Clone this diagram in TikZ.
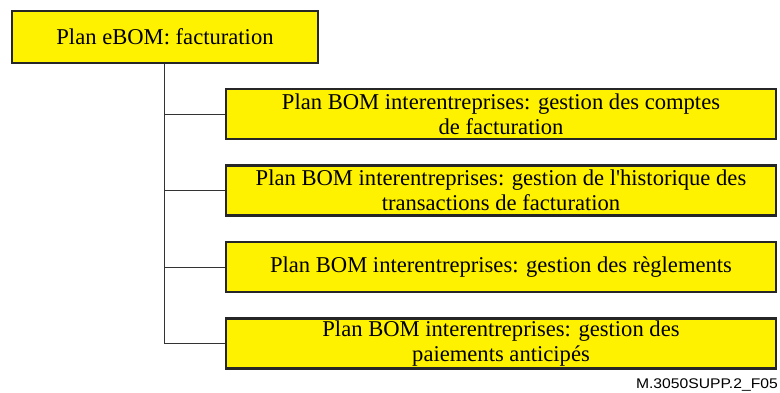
\documentclass[tikz,border=0pt]{standalone}
\usepackage{fontspec}
\setmainfont{Liberation Serif}
\setsansfont{Liberation Sans}
\newfontfamily\widesans[FakeStretch=1.12]{Liberation Sans}
\usepackage{xcolor}
\usepackage{tikz}
\usetikzlibrary{positioning}

\definecolor{planyellow}{RGB}{255,242,0}

\begin{document}
\begin{tikzpicture}[
    x=1pt, y=-1pt,
    plan/.style={draw=black!85, line width=2.2pt, fill=planyellow, align=center,
        font=\fontsize{22.6}{25}\selectfont, inner sep=0pt},
    rootplan/.style={plan, minimum width=306pt, minimum height=52pt},
    subplan/.style={plan, minimum width=550pt, minimum height=50pt},
    link/.style={draw=black!80, line width=1pt}
]
    \useasboundingbox (0,0) rectangle (780,392);

    \node[rootplan] (root) at (165,37) {Plan eBOM: facturation};

    \node[subplan] (comptes) at (501,114) {Plan BOM interentreprises: gestion des comptes\\de facturation};
    \node[subplan, below=24.3pt of comptes] (historique) {Plan BOM interentreprises: gestion de l\textquotesingle historique des\\transactions de facturation};
    \node[subplan, below=24.3pt of historique] (reglements) {Plan BOM interentreprises: gestion des règlements};
    \node[subplan, below=24.3pt of reglements] (paiements) {Plan BOM interentreprises: gestion des\\paiements anticipés};

    % connectors
    \draw[link] (root.south -| 164,0) |- (comptes.west);
    \draw[link] (root.south -| 164,0) |- (historique.west);
    \draw[link] (root.south -| 164,0) |- (reglements.west);
    \draw[link] (root.south -| 164,0) |- (paiements.west);

    \node[anchor=base east, inner sep=0pt, font=\widesans\fontsize{14}{16}\selectfont] (ref) at (778,388) {M.3050SUPP.2\_F05};
\end{tikzpicture}
\end{document}
